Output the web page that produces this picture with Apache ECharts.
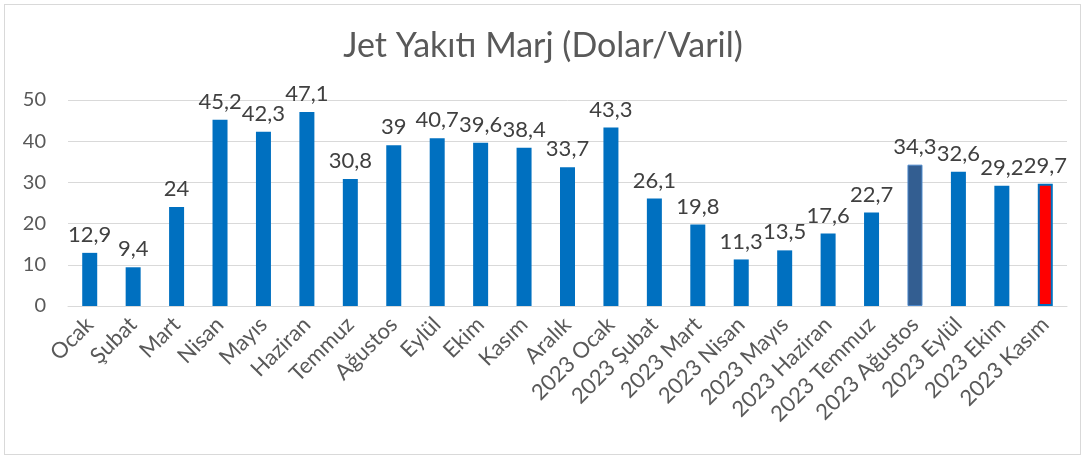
<!DOCTYPE html>
<html><head><meta charset="utf-8">
<script src="https://cdn.jsdelivr.net/npm/echarts@6/dist/echarts.min.js"></script>
<style>html,body{margin:0;padding:0;background:#fff}#c{width:1086px;height:459px}
#frame{position:absolute;left:4px;top:4px;width:1077px;height:451px;border:1px solid #d9d9d9;box-sizing:border-box;pointer-events:none}</style>
</head><body><div id="c"></div><div id="frame"></div>
<script>
const categories = ["Ocak","Şubat","Mart","Nisan","Mayıs","Haziran","Temmuz","Ağustos","Eylül","Ekim","Kasım","Aralık","2023 Ocak","2023 Şubat","2023 Mart","2023 Nisan","2023 Mayıs","2023 Haziran","2023 Temmuz","2023 Ağustos","2023 Eylül","2023 Ekim","2023 Kasım"];
const values = [12.9,9.4,24,45.2,42.3,47.1,30.8,39,40.7,39.6,38.4,33.7,43.3,26.1,19.8,11.3,13.5,17.6,22.7,34.3,32.6,29.2,29.7];
const yTicks = [0,10,20,30,40,50];
const title = "Jet Yakıtı Marj (Dolar/Varil)";
const font = "Lato, 'Open Sans', sans-serif";
const data = values.map((v,i)=>{
  const d = {value:v};
  if (categories[i]==="2023 Ağustos") d.itemStyle = {color:'#335E91', borderColor:'#4A86C8', borderWidth:1};
  if (categories[i]==="2023 Kasım") d.itemStyle = {color:'#FF0000', borderColor:'#0070C0', borderWidth:2};
  return d;
});
const chart = echarts.init(document.getElementById('c'));
chart.setOption({
  animation:false,
  title:{text:title,left:'center',top:24,textStyle:{fontFamily:font,fontSize:34,fontWeight:'normal',color:'#595959'}},
  grid:{left:68,right:19,top:100,bottom:153},
  xAxis:{type:'category',data:categories,
    axisLine:{lineStyle:{color:'#d9d9d9',width:1}},axisTick:{show:false},
    axisLabel:{rotate:45,interval:0,fontFamily:font,fontSize:22,color:'#595959',margin:15}},
  yAxis:{type:'value',min:yTicks[0],max:yTicks[yTicks.length-1],interval:10,
    axisLine:{show:false},axisTick:{show:false},
    splitLine:{lineStyle:{color:'#d9d9d9',width:1}},
    axisLabel:{fontFamily:font,fontSize:20,color:'#595959',margin:22}},
  series:[{type:'bar',data:data,barWidth:15,
    itemStyle:{color:'#0070C0'},
    label:{show:true,position:'top',distance:7,fontFamily:font,fontSize:22,color:'#404040',
      formatter:p=>String(p.value).replace('.',',')}}]
});
</script></body></html>
